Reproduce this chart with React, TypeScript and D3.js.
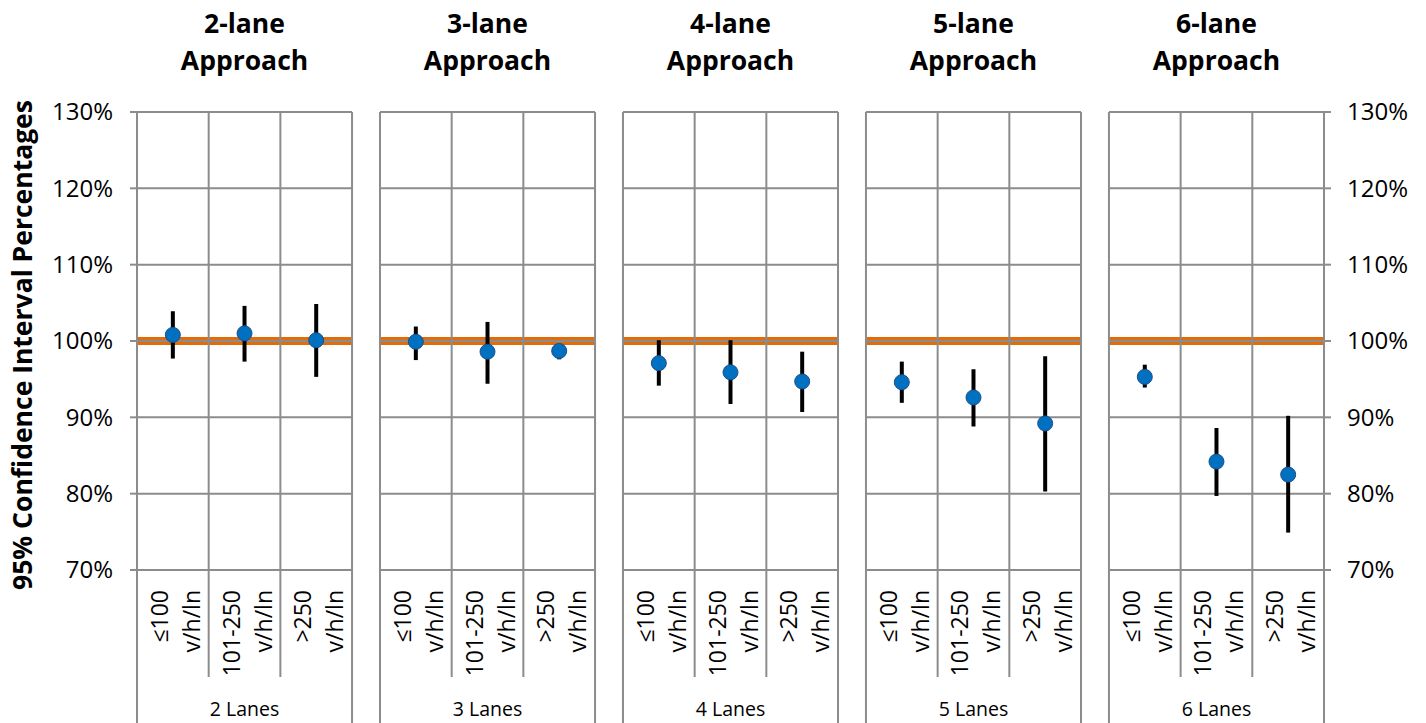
import React from "react";
import * as d3 from "d3";

const groups = ["2 Lanes", "3 Lanes", "4 Lanes", "5 Lanes", "6 Lanes"];
const titles = ["2-lane", "3-lane", "4-lane", "5-lane", "6-lane"];
const titleLine2 = "Approach";
const categories = ["≤100", "101-250", ">250"];
const unitLabel = "v/h/ln";
const means = [
  [100.8, 101.0, 100.1],
  [99.9, 98.6, 98.7],
  [97.1, 95.9, 94.7],
  [94.6, 92.6, 89.2],
  [95.3, 84.2, 82.5],
];
const upper = [
  [103.9, 104.6, 104.85],
  [101.9, 102.5, 99.6],
  [100.1, 100.1, 98.6],
  [97.3, 96.3, 98.0],
  [96.9, 88.6, 90.2],
];
const lower = [
  [97.7, 97.3, 95.3],
  [97.5, 94.4, 97.6],
  [94.15, 91.75, 90.7],
  [91.9, 88.8, 80.3],
  [93.9, 79.7, 74.9],
];
const referenceValue = 100;
const yTicks = [70, 80, 90, 100, 110, 120, 130];
const yTitle = "95% Confidence Interval Percentages";

const W = 1426;
const H = 723;
const FONT = "'Open Sans', sans-serif";
const GRID = "#8c8c8c";
const ORANGE = "#E36C0A";
const BLUE = "#0070C0";

export default function App() {
  const top = 112;
  const bottom = 570;
  const left = 137;
  const right = 1324;
  const y = d3.scaleLinear().domain([70, 130]).range([bottom, top]);
  const px = d3.scaleBand<string>().domain(groups).range([left, right]).paddingInner(0.115).paddingOuter(0);

  return (
    <svg width={W} height={H} style={{ position: "absolute", left: 0, top: 0, background: "#fff" }} fontFamily={FONT}>
      {/* y axis title */}
      <text transform={`translate(32,345) rotate(-90)`} textAnchor="middle" fontWeight="bold" fontSize={26.5} fill="#000">
        {yTitle}
      </text>
      {/* tick labels & ticks */}
      {yTicks.map((t) => (
        <g key={"l" + t}>
          <line x1={left - 7} x2={left} y1={y(t)} y2={y(t)} stroke={GRID} strokeWidth={2} />
          <text x={113} y={y(t)} dy="0.35em" textAnchor="end" fontSize={24} fill="#000">{t}%</text>
          <line x1={right - 1} x2={right + 7} y1={y(t)} y2={y(t)} stroke={GRID} strokeWidth={2} />
          <text x={1347} y={y(t)} dy="0.35em" textAnchor="start" fontSize={24} fill="#000">{t}%</text>
        </g>
      ))}
      {groups.map((g, gi) => {
        const x0 = px(g)!;
        const x1 = x0 + px.bandwidth();
        const cx = d3.scaleBand<string>().domain(categories).range([x0, x1]);
        const cxc = (c: string) => cx(c)! + cx.bandwidth() / 2;
        const mid = (x0 + x1) / 2;
        return (
          <g key={g}>
            {/* title */}
            <text x={mid} y={33} textAnchor="middle" fontWeight="bold" fontSize={26.5} fill="#000">{titles[gi]}</text>
            <text x={mid} y={70} textAnchor="middle" fontWeight="bold" fontSize={26.5} fill="#000">{titleLine2}</text>
            {/* orange reference */}
            <line x1={x0} x2={x1} y1={y(referenceValue)} y2={y(referenceValue)} stroke={ORANGE} strokeWidth={8} />
            {/* horizontal gridlines */}
            {yTicks.map((t) => (
              <line key={t} x1={x0} x2={x1} y1={y(t)} y2={y(t)} stroke={GRID} strokeWidth={2} />
            ))}
            {/* vertical lines */}
            <line x1={x0} x2={x0} y1={top} y2={H} stroke={GRID} strokeWidth={2} />
            <line x1={x1} x2={x1} y1={top} y2={H} stroke={GRID} strokeWidth={2} />
            {categories.slice(1).map((c) => (
              <line key={c} x1={cx(c)!} x2={cx(c)!} y1={top} y2={677} stroke={GRID} strokeWidth={2} />
            ))}
            {/* category labels */}
            {categories.map((c) => (
              <g key={c} transform={`translate(${cxc(c)},590) rotate(-90)`}>
                <text x={0} y={-5} textAnchor="end" fontSize={23} fill="#000">{c}</text>
                <text x={0} y={27} textAnchor="end" fontSize={23} fill="#000">{unitLabel}</text>
              </g>
            ))}
            <text x={mid} y={716} textAnchor="middle" fontSize={19.5} fill="#000">{g}</text>
            {/* error bars & markers */}
            {categories.map((c, ci) => (
              <g key={"p" + c}>
                <line x1={cxc(c)} x2={cxc(c)} y1={y(upper[gi][ci])} y2={y(lower[gi][ci])} stroke="#000" strokeWidth={4} />
                <circle cx={cxc(c)} cy={y(means[gi][ci])} r={7.5} fill={BLUE} stroke="#1f4e8c" strokeWidth={1} />
              </g>
            ))}
          </g>
        );
      })}
    </svg>
  );
}
